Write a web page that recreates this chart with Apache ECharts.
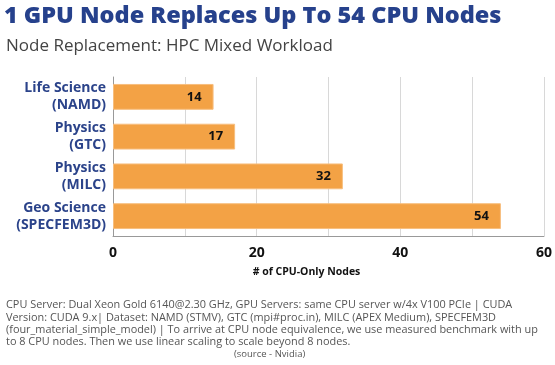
<!DOCTYPE html>
<html><head><meta charset="utf-8">
<script src="https://cdn.jsdelivr.net/npm/echarts@6/dist/echarts.min.js"></script>
<style>html,body{margin:0;padding:0;background:#fff}#c{width:555px;height:365px}</style>
</head><body><div id="c"></div>
<script>
const categories = ['Life Science\n(NAMD)', 'Physics\n(GTC)', 'Physics\n(MILC)', 'Geo Science\n(SPECFEM3D)'];
const values = [14, 17, 32, 54];
const xTicks = [0, 20, 40, 60];
const titleText = '1 GPU Node Replaces Up To 54 CPU Nodes';
const subtitleText = 'Node Replacement: HPC Mixed Workload';
const axisName = '# of CPU-Only Nodes';
const footnote = 'CPU Server: Dual Xeon Gold 6140@2.30 GHz, GPU Servers: same CPU server w/4x V100 PCIe | CUDA\nVersion: CUDA 9.x| Dataset: NAMD (STMV), GTC (mpi#proc.in), MILC (APEX Medium), SPECFEM3D\n(four_material_simple_model) | To arrive at CPU node equivalence, we use measured benchmark with up\nto 8 CPU nodes. Then we use linear scaling to scale beyond 8 nodes.';
const source = '(source - Nvidia)';

const chart = echarts.init(document.getElementById('c'), null, {renderer: 'canvas'});
chart.setOption({
  animation: false,
  backgroundColor: '#fff',
  title: [
    {text: titleText, left: -1, top: -1, textStyle: {fontFamily: 'Open Sans', fontWeight: 800, fontSize: 23.5, color: '#26418C'}},
    {text: subtitleText, left: 1, top: 33, textStyle: {fontFamily: 'Open Sans', fontWeight: 'normal', fontSize: 17, color: '#444'}},
    {text: footnote, left: 1, top: 294, textStyle: {fontFamily: 'Open Sans', fontWeight: 'normal', fontSize: 10.9, lineHeight: 12.3, color: '#555'}},
    {text: source, left: 229, top: 344, textStyle: {fontFamily: 'Open Sans', fontWeight: 'normal', fontSize: 9.5, color: '#555'}}
  ],
  grid: {left: 113, right: 6, top: 77, bottom: 129, containLabel: false},
  xAxis: {
    type: 'value', min: 0, max: 60, interval: 10,
    name: axisName, nameLocation: 'middle', nameGap: 31,
    nameTextStyle: {fontFamily: 'Open Sans', fontWeight: 'bold', fontSize: 10.5, color: '#111', padding: [0, 44, 0, 0]},
    axisLine: {show: true, lineStyle: {color: '#999', width: 1}},
    axisTick: {show: false},
    splitLine: {show: true, lineStyle: {color: '#d8d8d8', width: 1}},
    axisLabel: {margin: 10, fontFamily: 'Open Sans', fontWeight: 'bold', fontSize: 14, color: '#111',
      formatter: v => xTicks.includes(v) ? String(v) : ''}
  },
  yAxis: {
    type: 'category', data: categories, inverse: true,
    axisLine: {show: true, lineStyle: {color: '#999'}},
    axisTick: {show: false},
    axisLabel: {interval: 0, margin: 7, fontFamily: 'Open Sans', fontWeight: 'bold', fontSize: 14, lineHeight: 17, color: '#2B438A', align: 'right', padding: [6, 0, 0, 0]}
  },
  series: [{
    type: 'bar', data: values, barCategoryGap: '35%',
    itemStyle: {color: '#F3A245', borderColor: '#F7BE7E', borderWidth: 1},
    label: {show: true, position: 'insideRight', distance: 12, fontFamily: 'Open Sans', fontWeight: 'bold', fontSize: 13, color: '#111'}
  }]
});
</script></body></html>
